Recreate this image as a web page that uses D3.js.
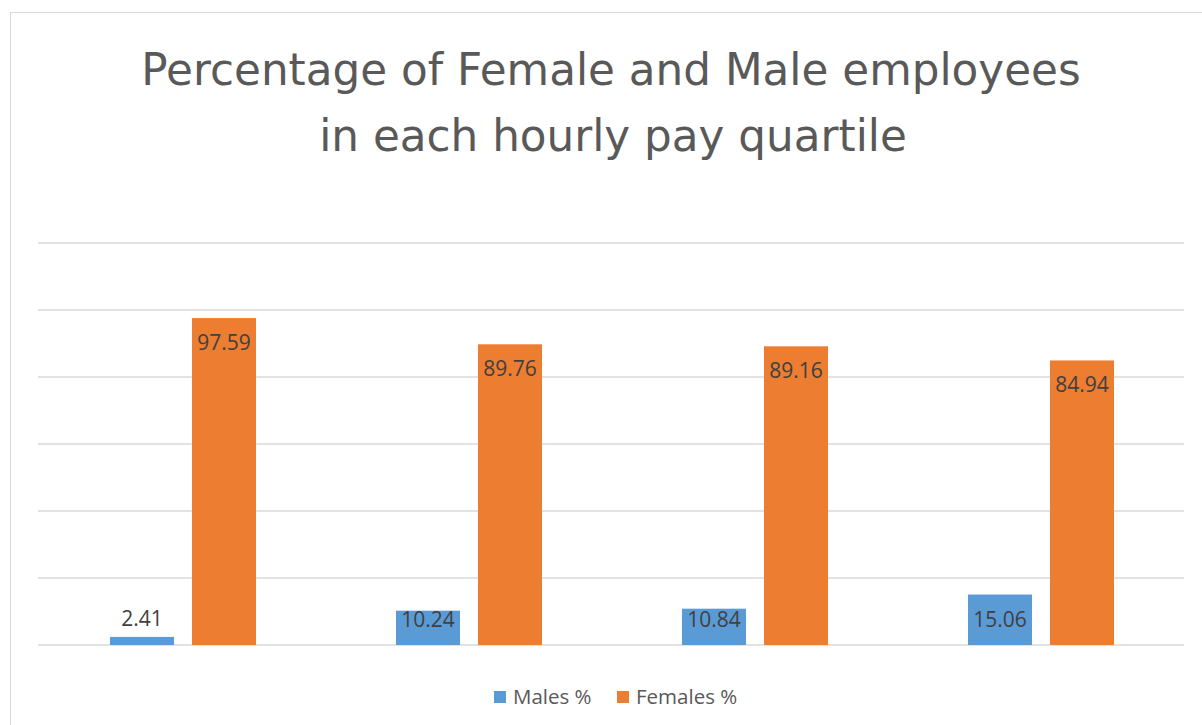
<!DOCTYPE html>
<html>
<head>
<meta charset="utf-8">
<script src="https://cdn.jsdelivr.net/npm/d3@7"></script>
<style>
  body { margin: 0; background: #fff; }
  svg { display: block; }
</style>
</head>
<body>
<svg width="1202" height="725"></svg>
<script>
var categories = ['Q1', 'Q2', 'Q3', 'Q4'];
var seriesNames = ['Males %', 'Females %'];
var males = [2.41, 10.24, 10.84, 15.06];
var females = [97.59, 89.76, 89.16, 84.94];
var yTicks = [0, 20, 40, 60, 80, 100, 120];
var colors = ['#5b9bd5', '#ed7d31'];

var svg = d3.select('svg');

// chart frame
svg.append('rect')
   .attr('x', 10.5).attr('y', 12.5)
   .attr('width', 1220).attr('height', 730)
   .attr('fill', 'none')
   .attr('stroke', '#d9d9d9');

var title = svg.append('text')
   .attr('text-anchor', 'middle')
   .attr('fill', '#595959')
   .style('font-family', '"Comic Sans MS", "DejaVu Sans", sans-serif')
   .style('font-size', '43.7px');
title.append('tspan').attr('x', 611).attr('y', 85).text('Percentage of Female and Male employees');
title.append('tspan').attr('x', 613).attr('y', 151).text('in each hourly pay quartile');

var x0 = d3.scaleBand().domain(categories).range([40, 1184]);
var y = d3.scaleLinear().domain([0, 120]).range([645, 243]);

// gridlines
svg.append('g').selectAll('line')
   .data(yTicks)
   .enter()
   .append('line')
   .attr('x1', 38).attr('x2', 1184)
   .attr('y1', function(d){ return y(d); })
   .attr('y2', function(d){ return y(d); })
   .attr('stroke', '#d9d9d9')
   .attr('stroke-width', 1.5);

var rows = categories.map(function(c, i){
   return [males[i], females[i]];
});

var barW = 64, gap = 18;
var groups = svg.append('g').selectAll('g')
   .data(rows)
   .enter()
   .append('g')
   .attr('transform', function(d, i){
      return 'translate(' + (x0(categories[i]) + x0.bandwidth()/2) + ',0)';
   });

groups.selectAll('rect')
   .data(function(d){ return d; })
   .enter()
   .append('rect')
   .attr('x', function(d, j){ return j === 0 ? -gap/2 - barW : gap/2; })
   .attr('width', barW)
   .attr('y', function(d){ return y(d); })
   .attr('height', function(d){ return y(0) - y(d); })
   .attr('fill', function(d, j){ return colors[j]; });

// inside-end labels, kept above the baseline; too-short bars get the label on top
groups.selectAll('text')
   .data(function(d){ return d; })
   .enter()
   .append('text')
   .attr('x', function(d, j){ return j === 0 ? -gap/2 - barW/2 : gap/2 + barW/2; })
   .attr('y', function(d){
      var h = y(0) - y(d);
      return h < 26 ? y(d) - 11 : Math.min(y(d) + 32, y(0) - 18);
   })
   .attr('text-anchor', 'middle')
   .attr('fill', '#404040')
   .style('font-family', '"Open Sans", "Liberation Sans", sans-serif')
   .style('font-size', '21px')
   .text(function(d){ return d.toFixed(2); });

// legend
var legend = svg.append('g')
   .style('font-family', '"Open Sans", "Liberation Sans", sans-serif')
   .style('font-size', '20.5px');
var legendX = [494, 617];
seriesNames.forEach(function(name, i){
   legend.append('rect')
      .attr('x', legendX[i]).attr('y', 691)
      .attr('width', 12).attr('height', 12)
      .attr('fill', colors[i]);
   legend.append('text')
      .attr('x', legendX[i] + 19).attr('y', 704)
      .attr('fill', '#595959')
      .text(name);
});
</script>
</body>
</html>
